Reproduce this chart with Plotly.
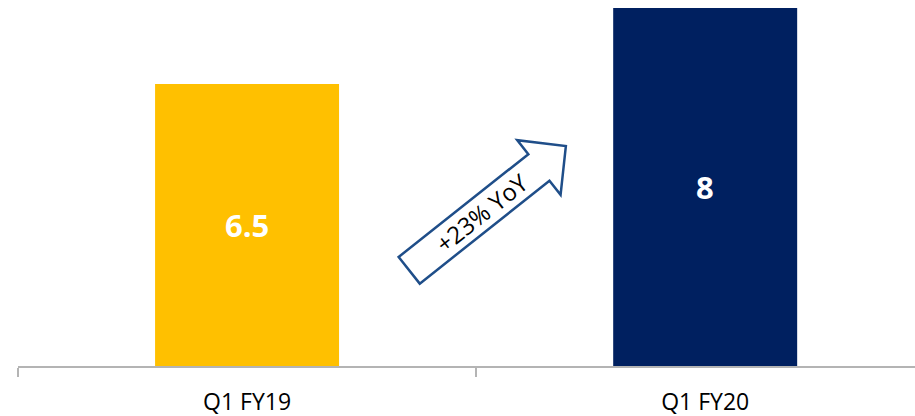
import math
import plotly.graph_objects as go

# Quarterly figures
quarters = ["Q1 FY19", "Q1 FY20"]
values = [6.5, 8]
bar_colors = ["#FFC000", "#002060"]
growth_label = "+23% YoY"

FIG_W, FIG_H = 915, 416
M_L, M_R, M_T, M_B = 18, 0, 0, 50
PLOT_W = FIG_W - M_L - M_R
PLOT_H = FIG_H - M_T - M_B

Y_MIN, Y_MAX = 0.935, 8.158
X_MIN, X_MAX = -0.5, 1.458

fig = go.Figure()
fig.add_trace(go.Bar(
    x=quarters,
    y=values,
    marker=dict(color=bar_colors, line=dict(width=0)),
    width=0.4016,
    hoverinfo="x+y",
))

# value labels centred in the visible part of each bar
for q, v in zip(quarters, values):
    fig.add_annotation(
        x=q, y=(v + Y_MIN) / 2, xref="x", yref="y",
        text=f"<b>{v:g}</b>", showarrow=False,
        font=dict(family="Open Sans", size=31, color="white"),
        xanchor="center", yanchor="middle",
    )


def to_paper(px, py):
    return (px - M_L) / PLOT_W, (M_T + PLOT_H - py) / PLOT_H


# block arrow between the bars (screen-pixel geometry, converted to paper units)
ang = math.radians(38.4)
ux, uy = math.cos(ang), -math.sin(ang)
nx, ny = math.sin(ang), math.cos(ang)
tail = (409.2, 270.3)
shaft_half, shaft_len = 17.0, 165.5
head_half, head_len = 34.9, 34.4


def pt(a, b):
    return (tail[0] + ux * a + nx * b, tail[1] + uy * a + ny * b)


poly = [
    pt(0, -shaft_half),
    pt(shaft_len, -shaft_half),
    pt(shaft_len, -head_half),
    pt(shaft_len + head_len, 0),
    pt(shaft_len, head_half),
    pt(shaft_len, shaft_half),
    pt(0, shaft_half),
]
path = "M " + " L ".join("{:.5f},{:.5f}".format(*to_paper(*p)) for p in poly) + " Z"
fig.add_shape(
    type="path", path=path, xref="paper", yref="paper",
    line=dict(color="#1F4E89", width=2.5), fillcolor="white", layer="above",
)

lx, ly = to_paper(481.7, 212.5)
fig.add_annotation(
    x=lx, y=ly, xref="paper", yref="paper", text=growth_label,
    showarrow=False, textangle=-38.4,
    font=dict(family="Open Sans", size=24, color="black"),
    xanchor="center", yanchor="middle",
)

fig.update_layout(
    width=FIG_W, height=FIG_H,
    margin=dict(l=M_L, r=M_R, t=M_T, b=M_B, pad=0),
    paper_bgcolor="white", plot_bgcolor="white",
    showlegend=False,
    xaxis=dict(
        type="category", range=[X_MIN, X_MAX],
        showline=True, linecolor="#B4B4B4", linewidth=1.75,
        ticks="outside", tickson="boundaries", ticklen=9,
        tickcolor="#B4B4B4", tickwidth=1.5,
        showgrid=False, zeroline=False, automargin=False,
        tickfont=dict(family="Open Sans", size=23, color="black"),
        ticklabelstandoff=15,
    ),
    yaxis=dict(range=[Y_MIN, Y_MAX], visible=False, showgrid=False,
               zeroline=False, automargin=False),
)

fig.write_html("out.html")
